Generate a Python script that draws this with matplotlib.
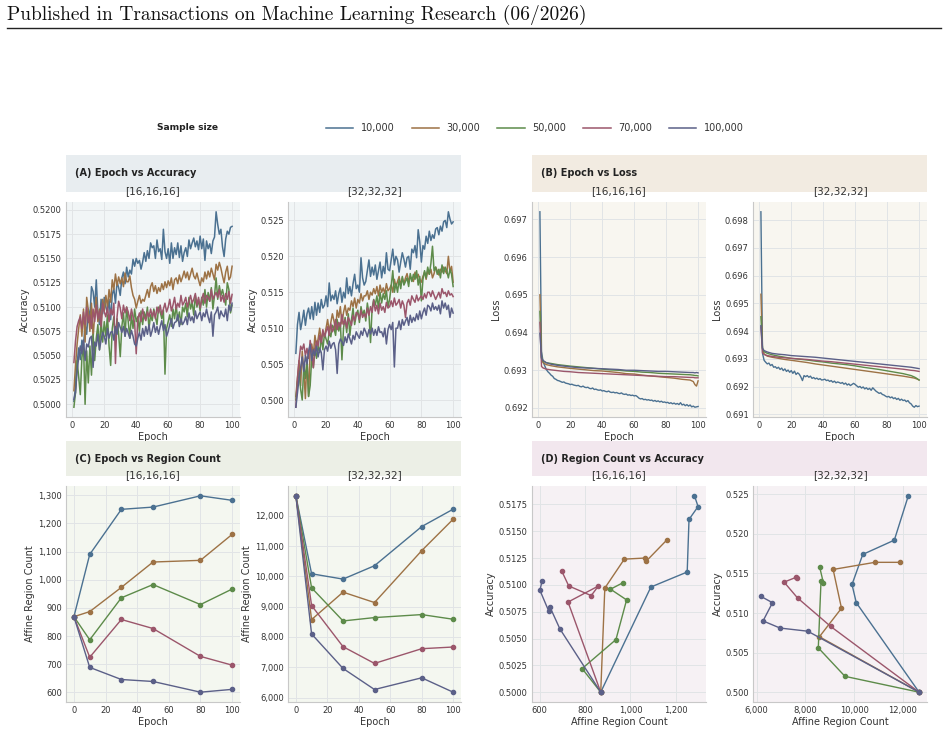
import numpy as np
import matplotlib.pyplot as plt
from matplotlib.patches import Rectangle
from matplotlib.lines import Line2D
from matplotlib.ticker import MultipleLocator, FormatStrFormatter, StrMethodFormatter

# sample sizes and colours
sizes = ['10,000', '30,000', '50,000', '70,000', '100,000']
colors = ['#4b7191', '#9d7245', '#5d8b4a', '#9b566b', '#5b6088']

epochs = np.arange(1, 101)
ckpt_epochs = [0, 10, 30, 50, 80, 100]
loss_epochs = [1, 2, 3, 5, 8, 12, 16, 20, 25, 30, 35, 40, 45, 50, 55, 60,
               65, 70, 75, 80, 85, 90, 95, 97, 98, 99, 100]

# accuracy per epoch, units of 1e-4  -- [16,16,16]
acc16_10k = [5003, 5018, 5042, 5058, 5046, 5066, 5060, 5082, 5072, 5098,
             5088, 5121, 5116, 5100, 5128, 5094, 5082, 5108, 5093, 5110,
             5100, 5094, 5108, 5087, 5113, 5119, 5104, 5126, 5120, 5112,
             5130, 5136, 5124, 5141, 5131, 5138, 5134, 5149, 5142, 5150,
             5145, 5148, 5139, 5146, 5156, 5147, 5158, 5150, 5166, 5161,
             5163, 5150, 5169, 5157, 5160, 5149, 5180, 5157, 5150, 5160,
             5145, 5166, 5150, 5161, 5154, 5166, 5151, 5163, 5147, 5156,
             5161, 5152, 5169, 5160, 5166, 5171, 5162, 5168, 5159, 5173,
             5160, 5170, 5148, 5168, 5160, 5165, 5155, 5168, 5172, 5198,
             5185, 5175, 5180, 5162, 5152, 5170, 5178, 5175, 5182, 5183]
acc16_30k = [5014, 5040, 5062, 5078, 5092, 5070, 5098, 5064, 5110, 5097,
             5075, 5104, 5068, 5092, 5110, 5085, 5098, 5078, 5108, 5096,
             5112, 5100, 5118, 5105, 5128, 5118, 5134, 5122, 5131, 5124,
             5130, 5121, 5135, 5126, 5126, 5132, 5120, 5112, 5108, 5099,
             5106, 5112, 5104, 5108, 5106, 5112, 5118, 5110, 5121, 5125,
             5116, 5122, 5114, 5120, 5116, 5124, 5118, 5126, 5120, 5127,
             5122, 5130, 5118, 5128, 5130, 5124, 5133, 5126, 5131, 5137,
             5130, 5136, 5128, 5134, 5140, 5132, 5129, 5135, 5128, 5122,
             5130, 5126, 5136, 5129, 5137, 5131, 5140, 5134, 5128, 5144,
             5138, 5146, 5140, 5132, 5125, 5136, 5142, 5128, 5131, 5142]
acc16_50k = [4997, 5012, 5045, 5028, 5010, 5048, 5062, 5000, 5055, 5022,
             5060, 5030, 5072, 5045, 5068, 5082, 5056, 5088, 5064, 5085,
             5070, 5092, 5060, 5040, 5078, 5090, 5066, 5088, 5072, 5049,
             5080, 5094, 5070, 5100, 5085, 5068, 5092, 5078, 5098, 5085,
             5090, 5075, 5096, 5082, 5095, 5088, 5100, 5078, 5092, 5086,
             5098, 5090, 5082, 5100, 5095, 5088, 5097, 5031, 5078, 5085,
             5092, 5080, 5098, 5088, 5102, 5086, 5095, 5082, 5100, 5095,
             5104, 5090, 5110, 5098, 5105, 5092, 5112, 5100, 5108, 5096,
             5110, 5102, 5118, 5100, 5115, 5106, 5120, 5098, 5112, 5130,
             5108, 5122, 5112, 5118, 5110, 5102, 5125, 5118, 5094, 5102]
acc16_70k = [5043, 5065, 5080, 5086, 5090, 5078, 5095, 5082, 5100, 5084,
             5092, 5078, 5098, 5085, 5102, 5088, 5096, 5080, 5104, 5095,
             5090, 5100, 5085, 5098, 5092, 5104, 5042, 5090, 5106, 5099,
             5088, 5102, 5094, 5100, 5095, 5086, 5098, 5090, 5084, 5052,
             5088, 5094, 5085, 5098, 5090, 5086, 5095, 5090, 5098, 5090,
             5096, 5088, 5100, 5094, 5102, 5092, 5098, 5104, 5095, 5100,
             5108, 5096, 5102, 5110, 5098, 5104, 5100, 5112, 5102, 5105,
             5110, 5100, 5106, 5112, 5104, 5108, 5114, 5102, 5110, 5099,
             5108, 5114, 5104, 5112, 5110, 5106, 5118, 5108, 5112, 5115,
             5110, 5118, 5106, 5112, 5105, 5114, 5108, 5116, 5104, 5113]
acc16_100k = [5005, 5012, 5035, 5048, 5060, 5052, 5066, 5045, 5062, 5059,
              5068, 5070, 5038, 5064, 5060, 5072, 5056, 5066, 5074, 5070,
              5062, 5078, 5068, 5074, 5075, 5066, 5080, 5072, 5084, 5079,
              5074, 5080, 5070, 5078, 5073, 5068, 5076, 5070, 5062, 5060,
              5068, 5074, 5066, 5078, 5070, 5080, 5072, 5082, 5070, 5076,
              5084, 5074, 5080, 5072, 5080, 5086, 5076, 5082, 5070, 5075,
              5082, 5088, 5078, 5084, 5085, 5092, 5080, 5088, 5082, 5085,
              5090, 5082, 5094, 5086, 5090, 5084, 5096, 5088, 5092, 5095,
              5086, 5094, 5090, 5098, 5090, 5084, 5095, 5070, 5092, 5095,
              5100, 5088, 5096, 5092, 5090, 5098, 5086, 5102, 5096, 5104]

# accuracy per epoch, units of 1e-4  -- [32,32,32]
acc32_10k = [5065, 5105, 5122, 5098, 5110, 5125, 5104, 5120, 5128, 5113,
             5130, 5112, 5136, 5118, 5135, 5122, 5140, 5128, 5132, 5145,
             5130, 5163, 5138, 5146, 5140, 5152, 5134, 5148, 5156, 5136,
             5150, 5142, 5170, 5148, 5158, 5145, 5162, 5175, 5155, 5160,
             5150, 5198, 5170, 5160, 5165, 5180, 5195, 5172, 5185, 5174,
             5188, 5168, 5180, 5192, 5170, 5186, 5176, 5205, 5182, 5180,
             5195, 5210, 5188, 5200, 5195, 5178, 5192, 5205, 5196, 5185,
             5198, 5200, 5182, 5210, 5205, 5215, 5198, 5237, 5220, 5192,
             5215, 5210, 5228, 5218, 5235, 5222, 5230, 5225, 5238, 5240,
             5230, 5242, 5235, 5248, 5250, 5240, 5262, 5252, 5245, 5248]
acc32_30k = [5005, 5030, 5055, 5020, 5068, 5040, 5002, 5060, 5005, 5070,
             5078, 5062, 5090, 5075, 5085, 5100, 5082, 5095, 5088, 5100,
             5112, 5094, 5108, 5120, 5110, 5098, 5125, 5115, 5130, 5106,
             5122, 5132, 5118, 5128, 5125, 5138, 5130, 5142, 5128, 5140,
             5135, 5148, 5138, 5145, 5145, 5152, 5140, 5150, 5146, 5155,
             5148, 5158, 5145, 5160, 5150, 5156, 5148, 5162, 5152, 5155,
             5160, 5150, 5168, 5158, 5165, 5172, 5160, 5170, 5162, 5170,
             5176, 5165, 5172, 5168, 5165, 5178, 5170, 5175, 5168, 5164,
             5172, 5178, 5168, 5180, 5175, 5182, 5170, 5176, 5185, 5180,
             5174, 5182, 5178, 5185, 5180, 5176, 5200, 5178, 5186, 5164]
acc32_50k = [5000, 5025, 5040, 5015, 5000, 5048, 5030, 5055, 5005, 5020,
             5060, 5045, 5072, 5058, 5075, 5066, 5088, 5070, 5092, 5085,
             5078, 5095, 5088, 5104, 5100, 5090, 5112, 5096, 5108, 5056,
             5100, 5115, 5094, 5120, 5090, 5112, 5128, 5105, 5118, 5125,
             5108, 5130, 5118, 5125, 5110, 5135, 5120, 5080, 5128, 5140,
             5132, 5145, 5128, 5150, 5135, 5148, 5140, 5152, 5130, 5140,
             5158, 5180, 5150, 5162, 5150, 5168, 5155, 5172, 5160, 5165,
             5170, 5158, 5176, 5165, 5175, 5168, 5180, 5160, 5172, 5138,
             5168, 5180, 5170, 5185, 5175, 5190, 5214, 5180, 5185, 5175,
             5182, 5170, 5188, 5176, 5185, 5180, 5170, 5182, 5175, 5158]
acc32_70k = [4990, 5030, 5055, 5075, 5070, 5078, 5062, 5072, 5058, 5083,
             5068, 5045, 5070, 5082, 5075, 5090, 5080, 5098, 5088, 5095,
             5102, 5090, 5106, 5095, 5100, 5112, 5098, 5108, 5102, 5119,
             5105, 5112, 5100, 5115, 5110, 5104, 5118, 5110, 5122, 5120,
             5112, 5125, 5115, 5120, 5115, 5128, 5118, 5130, 5122, 5139,
             5124, 5132, 5120, 5135, 5125, 5130, 5122, 5136, 5128, 5130,
             5138, 5130, 5142, 5132, 5135, 5140, 5128, 5138, 5132, 5115,
             5135, 5140, 5132, 5145, 5140, 5136, 5146, 5138, 5142, 5145,
             5140, 5148, 5142, 5150, 5150, 5144, 5152, 5146, 5140, 5145,
             5150, 5142, 5155, 5148, 5150, 5144, 5152, 5146, 5148, 5144]
acc32_100k = [4990, 5010, 5030, 5045, 5060, 5040, 5062, 5050, 5068, 5077,
              5055, 5070, 5062, 5075, 5060, 5072, 5066, 5042, 5070, 5075,
              5068, 5082, 5072, 5078, 5080, 5070, 5037, 5078, 5085, 5081,
              5076, 5088, 5080, 5092, 5085, 5078, 5090, 5084, 5095, 5090,
              5086, 5096, 5090, 5100, 5095, 5088, 5098, 5092, 5100, 5090,
              5098, 5090, 5102, 5094, 5095, 5088, 5100, 5078, 5098, 5105,
              5098, 5108, 5046, 5100, 5100, 5110, 5098, 5112, 5104, 5110,
              5115, 5104, 5118, 5108, 5115, 5110, 5120, 5112, 5124, 5113,
              5122, 5128, 5118, 5132, 5130, 5124, 5135, 5126, 5130, 5125,
              5132, 5120, 5138, 5128, 5135, 5126, 5132, 5115, 5128, 5121]

# loss, units of 1e-5 -- [16,16,16]
loss16_10k = [69720, 69350, 69322, 69312, 69302, 69296, 69292, 69287, 69284, 69278,
              69276, 69273, 69272, 69270, 69268, 69269, 69266, 69265, 69264, 69262,
              69263, 69261, 69260, 69259, 69260, 69257, 69256, 69258, 69255, 69254,
              69255, 69252, 69251, 69253, 69249, 69250, 69248, 69247, 69248, 69245,
              69246, 69244, 69243, 69245, 69242, 69241, 69242, 69240, 69241, 69239,
              69238, 69240, 69237, 69236, 69237, 69234, 69235, 69233, 69234, 69232,
              69233, 69230, 69226, 69224, 69225, 69222, 69223, 69221, 69222, 69220,
              69221, 69218, 69220, 69217, 69219, 69216, 69218, 69215, 69216, 69214,
              69215, 69212, 69214, 69211, 69213, 69210, 69212, 69209, 69214, 69208,
              69210, 69206, 69209, 69205, 69208, 69203, 69205, 69202, 69203, 69204]
loss16_30k = [69500, 69335, 69320, 69315, 69312, 69309, 69307, 69305, 69303, 69301,
              69299, 69298, 69296, 69294, 69291, 69290, 69287, 69285, 69283, 69281,
              69279, 69276, 69274, 69270, 69262, 69258, 69272]
loss16_50k = [69456, 69332, 69324, 69320, 69318, 69315, 69313, 69311, 69309, 69307,
              69305, 69303, 69301, 69300, 69298, 69297, 69295, 69294, 69292, 69291,
              69290, 69289, 69288, 69287, 69286, 69286, 69285]
loss16_70k = [69427, 69310, 69306, 69303, 69301, 69299, 69297, 69296, 69294, 69293,
              69292, 69291, 69290, 69289, 69288, 69287, 69286, 69285, 69284, 69283,
              69283, 69282, 69281, 69281, 69280, 69280, 69280]
loss16_100k = [69398, 69332, 69326, 69320, 69316, 69313, 69311, 69309, 69307, 69306,
               69305, 69304, 69303, 69302, 69300, 69300, 69299, 69298, 69297, 69297,
               69296, 69295, 69294, 69294, 69293, 69294, 69293]

# loss, units of 1e-5 -- [32,32,32]
loss32_10k = [69830, 69320, 69295, 69288, 69282, 69285, 69276, 69280, 69270, 69272,
              69266, 69270, 69262, 69267, 69258, 69264, 69255, 69260, 69252, 69258,
              69248, 69256, 69244, 69250, 69245, 69235, 69222, 69240, 69236, 69240,
              69234, 69238, 69230, 69233, 69228, 69231, 69226, 69229, 69224, 69225,
              69227, 69222, 69224, 69219, 69222, 69216, 69220, 69214, 69217, 69215,
              69212, 69215, 69209, 69213, 69206, 69210, 69204, 69208, 69212, 69208,
              69203, 69198, 69201, 69195, 69199, 69192, 69196, 69190, 69194, 69187,
              69196, 69190, 69184, 69180, 69176, 69178, 69172, 69170, 69166, 69163,
              69165, 69160, 69163, 69157, 69160, 69154, 69158, 69151, 69155, 69150,
              69152, 69146, 69150, 69142, 69138, 69130, 69126, 69132, 69128, 69130]
loss32_30k = [69533, 69340, 69318, 69310, 69306, 69302, 69298, 69295, 69291, 69287,
              69282, 69278, 69274, 69270, 69266, 69262, 69258, 69254, 69250, 69246,
              69242, 69238, 69233, 69231, 69229, 69227, 69224]
loss32_50k = [69452, 69335, 69326, 69320, 69315, 69310, 69306, 69302, 69299, 69296,
              69292, 69289, 69285, 69282, 69279, 69275, 69270, 69266, 69262, 69257,
              69252, 69247, 69240, 69235, 69232, 69228, 69224]
loss32_70k = [69415, 69322, 69316, 69312, 69309, 69306, 69304, 69302, 69300, 69298,
              69295, 69292, 69290, 69287, 69284, 69281, 69278, 69275, 69272, 69269,
              69266, 69263, 69259, 69258, 69257, 69256, 69255]
loss32_100k = [69420, 69338, 69330, 69325, 69320, 69317, 69315, 69312, 69310, 69308,
               69306, 69303, 69300, 69297, 69294, 69291, 69288, 69285, 69282, 69279,
               69276, 69273, 69270, 69268, 69267, 69266, 69265]

# affine region counts at checkpoints (epoch 0, 10, 30, 50, 80, 100)
regions16 = [[869, 1090, 1250, 1258, 1298, 1282],
             [869, 887, 973, 1063, 1069, 1161],
             [869, 787, 936, 983, 912, 967],
             [869, 725, 859, 827, 728, 697],
             [869, 689, 646, 639, 601, 611]]
regions32 = [[12663, 10088, 9912, 10354, 11647, 12221],
             [12663, 8575, 9481, 9138, 10851, 11890],
             [12663, 9624, 8530, 8641, 8740, 8586],
             [12663, 9039, 7680, 7127, 7613, 7669],
             [12663, 8100, 6961, 6265, 6652, 6177]]
# accuracy at the same checkpoints
ckacc16 = [[0.5000, 0.5098, 0.5112, 0.5161, 0.5173, 0.5183],
           [0.5000, 0.5097, 0.5124, 0.5125, 0.5122, 0.5142],
           [0.5000, 0.5022, 0.5049, 0.5086, 0.5096, 0.5102],
           [0.5000, 0.5084, 0.5099, 0.5090, 0.5099, 0.5113],
           [0.5000, 0.5059, 0.5079, 0.5076, 0.5095, 0.5104]]
ckacc32 = [[0.5000, 0.5113, 0.5136, 0.5174, 0.5192, 0.5248],
           [0.5000, 0.5070, 0.5106, 0.5155, 0.5164, 0.5164],
           [0.5000, 0.5020, 0.5056, 0.5140, 0.5138, 0.5158],
           [0.5000, 0.5083, 0.5119, 0.5139, 0.5145, 0.5144],
           [0.5000, 0.5077, 0.5081, 0.5090, 0.5113, 0.5121]]

acc16 = [acc16_10k, acc16_30k, acc16_50k, acc16_70k, acc16_100k]
acc32 = [acc32_10k, acc32_30k, acc32_50k, acc32_70k, acc32_100k]
loss16 = [loss16_10k, loss16_30k, loss16_50k, loss16_70k, loss16_100k]
loss32 = [loss32_10k, loss32_30k, loss32_50k, loss32_70k, loss32_100k]

W, H = 948, 731
fig = plt.figure(figsize=(W / 100, H / 100), dpi=100)
plt.rcParams['font.family'] = 'DejaVu Sans'


def px(x0, y0, x1, y1):
    return [x0 / W, 1 - y1 / H, (x1 - x0) / W, (y1 - y0) / H]


def style(ax, bg):
    ax.set_facecolor(bg)
    for s in ['top', 'right']:
        ax.spines[s].set_visible(False)
    for s in ['left', 'bottom']:
        ax.spines[s].set_color('#c8c8c8')
        ax.spines[s].set_linewidth(0.8)
    ax.grid(True, color='#e1e4e6', linewidth=0.7)
    ax.set_axisbelow(True)
    ax.tick_params(labelsize=6, length=0, labelcolor='#333333', pad=3)


def header(x0, y0, x1, y1, color, title):
    fig.patches.append(Rectangle((x0 / W, 1 - y1 / H), (x1 - x0) / W, (y1 - y0) / H,
                                 transform=fig.transFigure, facecolor=color,
                                 edgecolor='none', zorder=1))
    fig.text((x0 + 9) / W, 1 - (y0 + 18) / H, title, fontsize=7, fontweight='bold',
             color='#222222', va='center', zorder=3)


def subtitle(ax_box, y, text):
    x = (ax_box[0] + ax_box[2]) / 2
    fig.text(x / W, 1 - y / H, text, fontsize=7.5, color='#333333',
             ha='center', va='center', zorder=3)


top = (202, 417)
bot = (486, 702)
cols = [(66, 240), (288, 461), (532, 706), (753, 927)]

# headers
header(66, 155, 461, 192, '#e8edf0', '(A) Epoch vs Accuracy')
header(532, 155, 927, 192, '#f2ebe1', '(B) Epoch vs Loss')
header(66, 441, 461, 476, '#ecefe6', '(C) Epoch vs Region Count')
header(532, 441, 927, 476, '#f2e7ee', '(D) Region Count vs Accuracy')

labels = ['[16,16,16]', '[32,32,32]']
for i, (c0, c1) in enumerate(cols):
    subtitle((c0, 0, c1), 191.5, labels[i % 2])
    subtitle((c0, 0, c1), 475, labels[i % 2])

# (A) accuracy
for k, data in enumerate([acc16, acc32]):
    c0, c1 = cols[k]
    ax = fig.add_axes(px(c0, top[0], c1, top[1]))
    style(ax, '#f1f5f6')
    for s, col in enumerate(colors):
        ax.plot(epochs, np.array(data[s]) / 1e4, color=col, lw=1.1)
    ax.set_xticks([0, 20, 40, 60, 80, 100])
    if k == 0:
        ax.yaxis.set_major_locator(MultipleLocator(0.0025))
        ax.yaxis.set_major_formatter(FormatStrFormatter('%.4f'))
    else:
        ax.yaxis.set_major_locator(MultipleLocator(0.005))
        ax.yaxis.set_major_formatter(FormatStrFormatter('%.3f'))
    ax.set_ylabel('Accuracy', fontsize=7, color='#333333', labelpad=2)
    ax.set_xlabel('Epoch', fontsize=7, color='#333333', labelpad=1)
    if k == 0:
        handles = [Line2D([], [], color=col, lw=1.1) for col in colors]

# (B) loss
for k, data in enumerate([loss16, loss32]):
    c0, c1 = cols[k + 2]
    ax = fig.add_axes(px(c0, top[0], c1, top[1]))
    style(ax, '#f8f6f0')
    for s, col in enumerate(colors):
        xs = epochs if s == 0 else loss_epochs
        ax.plot(xs, np.array(data[s]) / 1e5, color=col, lw=1.0)
    ax.set_xticks([0, 20, 40, 60, 80, 100])
    ax.yaxis.set_major_locator(MultipleLocator(0.001))
    ax.yaxis.set_major_formatter(FormatStrFormatter('%.3f'))
    ax.set_ylabel('Loss', fontsize=7, color='#333333', labelpad=2)
    ax.set_xlabel('Epoch', fontsize=7, color='#333333', labelpad=1)

# (C) region count over epochs
for k, data in enumerate([regions16, regions32]):
    c0, c1 = cols[k]
    ax = fig.add_axes(px(c0, bot[0], c1, bot[1]))
    style(ax, '#f4f7f0')
    for s, col in enumerate(colors):
        ax.plot(ckpt_epochs, data[s], color=col, lw=1.0, marker='o', ms=3)
    ax.set_xticks([0, 20, 40, 60, 80, 100])
    ax.yaxis.set_major_locator(MultipleLocator(100 if k == 0 else 1000))
    ax.yaxis.set_major_formatter(StrMethodFormatter('{x:,.0f}'))
    ax.set_ylabel('Affine Region Count', fontsize=7, color='#333333', labelpad=2)
    ax.set_xlabel('Epoch', fontsize=7, color='#333333', labelpad=1)

# (D) region count vs accuracy
for k, (reg, acc) in enumerate([(regions16, ckacc16), (regions32, ckacc32)]):
    c0, c1 = cols[k + 2]
    ax = fig.add_axes(px(c0, bot[0], c1, bot[1]))
    style(ax, '#f6f1f4')
    for s, col in enumerate(colors):
        ax.plot(reg[s], acc[s], color=col, lw=1.0, marker='o', ms=3)
    if k == 0:
        ax.xaxis.set_major_locator(MultipleLocator(200))
        ax.yaxis.set_major_locator(MultipleLocator(0.0025))
        ax.yaxis.set_major_formatter(FormatStrFormatter('%.4f'))
    else:
        ax.xaxis.set_major_locator(MultipleLocator(2000))
        ax.yaxis.set_major_locator(MultipleLocator(0.005))
        ax.yaxis.set_major_formatter(FormatStrFormatter('%.3f'))
    ax.xaxis.set_major_formatter(StrMethodFormatter('{x:,.0f}'))
    ax.set_ylabel('Accuracy', fontsize=7, color='#333333', labelpad=2)
    ax.set_xlabel('Affine Region Count', fontsize=7, color='#333333', labelpad=1)

# legend row
fig.text(157 / W, 1 - 128 / H, 'Sample size', fontsize=6.6, fontweight='bold',
         color='#222222', va='center')
fig.legend(handles, sizes, loc='center', bbox_to_anchor=(535 / W, 1 - 128 / H),
           ncol=5, frameon=False, fontsize=7, handlelength=2.8,
           handletextpad=0.8, columnspacing=1.75, labelcolor='#333333')

# page header
fig.text(7 / W, 1 - 15 / H, 'Published in Transactions on Machine Learning Research (06/2026)',
         fontsize=14, family='cmr10', va='center', color='#111111')
fig.add_artist(Line2D([7 / W, 941 / W], [1 - 28 / H, 1 - 28 / H], color='#222222', lw=1.0,
                      transform=fig.transFigure))

fig.savefig('out.png', dpi=100, facecolor='white')
